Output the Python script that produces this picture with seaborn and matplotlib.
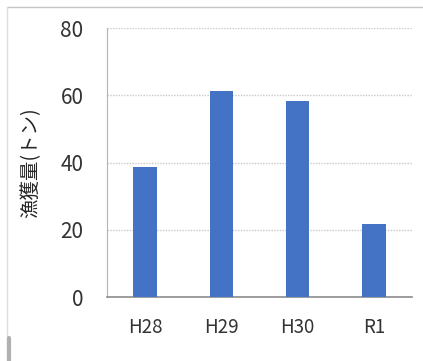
import pandas as pd
import seaborn as sns
import matplotlib.pyplot as plt
from matplotlib.lines import Line2D

# data
years = ['H28', 'H29', 'H30', 'R1']
catch_tons = [38.6, 61.3, 58.2, 21.6]

df = pd.DataFrame({'year': years, 'catch': catch_tons})

sns.set_style('white')
plt.rcParams['font.family'] = ['Noto Sans CJK JP', 'DejaVu Sans']

fig = plt.figure(figsize=(4.23, 3.61), dpi=100)
ax = fig.add_axes([0.253, 0.177, 0.721, 0.745])

sns.barplot(data=df, x='year', y='catch', color='#4472C4', width=0.31,
            saturation=1, linewidth=0, ax=ax, zorder=3)

ax.set_ylim(0, 80)
ax.set_xlim(-0.5, 3.5)
ax.set_yticks([0, 20, 40, 60, 80])
ax.yaxis.grid(True, linestyle=(0, (1, 1)), color='#c8c8c8', linewidth=1, zorder=0)
ax.set_axisbelow(True)

ax.set_xlabel('')
ax.set_ylabel('漁獲量(トン)', fontsize=14, color='#262626')
ax.yaxis.set_label_coords(-0.215, 0.5)
ax.tick_params(axis='y', labelsize=15, labelcolor='#333333', length=0, pad=17)
ax.tick_params(axis='x', labelsize=13.5, labelcolor='#333333', length=0, pad=14)

for side in ['top', 'right']:
    ax.spines[side].set_visible(False)
ax.spines['left'].set_color('#b4b4b4')
ax.spines['bottom'].set_color('#8c8c8c')
ax.spines['bottom'].set_linewidth(1.2)

# outer chart frame lines
fig.add_artist(Line2D([7 / 423, 1], [1 - 7 / 361, 1 - 7 / 361], color='#c4c4c4', lw=1))
fig.add_artist(Line2D([7 / 423, 7 / 423], [0, 1 - 7 / 361], color='#dedede', lw=1))
fig.add_artist(Line2D([9 / 423, 9 / 423], [0, 23 / 361], color='#b0b0b0', lw=3))

fig.savefig('out.png', dpi=100)
